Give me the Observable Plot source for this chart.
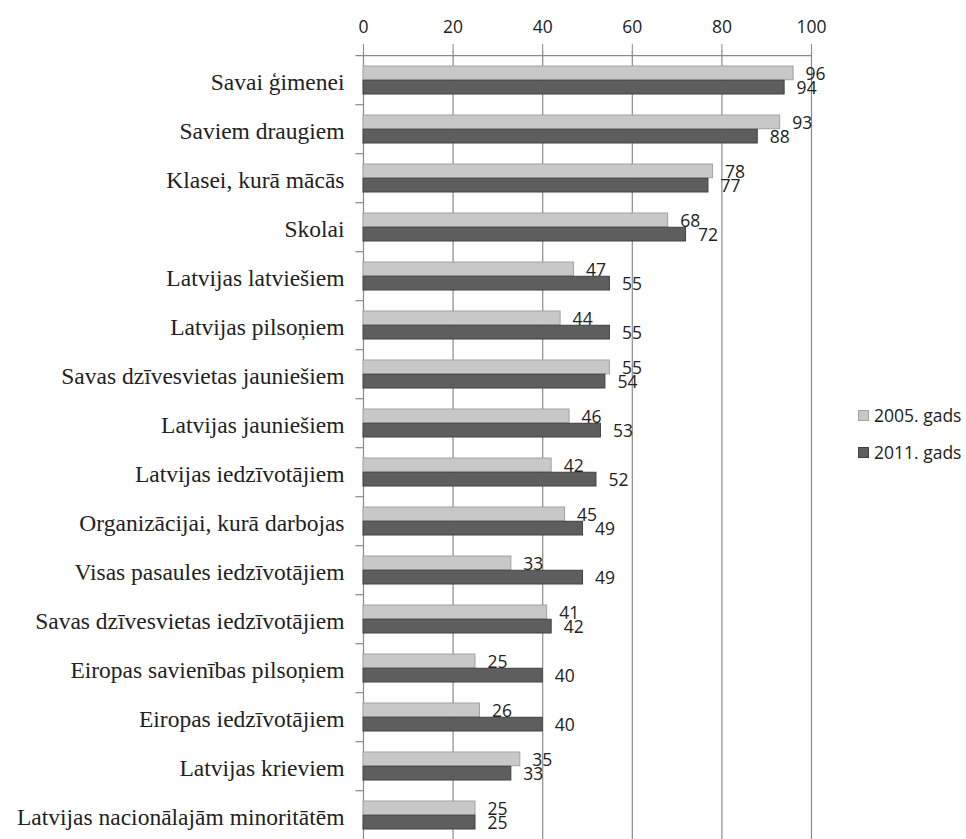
<!DOCTYPE html>
<html>
<head>
<meta charset="utf-8">
<script src="https://cdn.jsdelivr.net/npm/d3@7"></script>
<script src="https://cdn.jsdelivr.net/npm/@observablehq/plot@0.6"></script>
<style>
  html, body { margin: 0; padding: 0; background: #fff; }
  #wrap { position: relative; width: 966px; height: 839px; overflow: hidden; }
  #legend { position: absolute; left: 858px; top: 403px; font-family: "Open Sans", sans-serif; font-size: 17.5px; color: #222; }
  #legend .row { display: flex; align-items: center; height: 24px; margin-bottom: 13px; }
  #legend .sw { width: 11px; height: 11px; margin-right: 5px; box-sizing: border-box; }
</style>
</head>
<body>
<div id="wrap"><div id="chart"></div><div id="legend"></div></div>
<script>
const categories = [
  "Savai ģimenei",
  "Saviem draugiem",
  "Klasei, kurā mācās",
  "Skolai",
  "Latvijas latviešiem",
  "Latvijas pilsoņiem",
  "Savas dzīvesvietas jauniešiem",
  "Latvijas jauniešiem",
  "Latvijas iedzīvotājiem",
  "Organizācijai, kurā darbojas",
  "Visas pasaules iedzīvotājiem",
  "Savas dzīvesvietas iedzīvotājiem",
  "Eiropas savienības pilsoņiem",
  "Eiropas iedzīvotājiem",
  "Latvijas krieviem",
  "Latvijas nacionālajām minoritātēm"
];
const values2005 = [96, 93, 78, 68, 47, 44, 55, 46, 42, 45, 33, 41, 25, 26, 35, 25];
const values2011 = [94, 88, 77, 72, 55, 55, 54, 53, 52, 49, 49, 42, 40, 40, 33, 25];
const seriesNames = ["2005. gads", "2011. gads"];
const xTicks = [0, 20, 40, 60, 80, 100];

const colors = {fill05: "#c8c8c8", stroke05: "#a2a2a2", fill11: "#5e5e5e", stroke11: "#404040"};

const d05 = categories.map((c, i) => ({category: c, value: values2005[i], series: seriesNames[0]}));
const d11 = categories.map((c, i) => ({category: c, value: values2011[i], series: seriesNames[1]}));

// band layout: step ~49.6px, group of two bars ~28.5px, first bar top at ~61.7px
const pad = 0.425;
const step = 49.6;
const firstBandTop = 61.7;
const r0 = firstBandTop - step * pad;
const yRange = [r0, r0 + step * (categories.length + pad)];
const bw = step * (1 - pad);
const half = bw / 2;

const chart = Plot.plot({
  width: 966,
  height: 839,
  marginLeft: 363,
  marginRight: 155,
  marginTop: 51,
  marginBottom: 0,
  style: {fontFamily: "'Open Sans', sans-serif", fontSize: "17px", color: "#222", background: "#fff"},
  x: {domain: [0, 100]},
  y: {domain: categories, range: yRange, padding: pad, align: 0.5},
  marks: [
    Plot.gridX(xTicks.slice(1), {stroke: "#8a8a8a", strokeOpacity: 1, strokeWidth: 1.2}),
    Plot.ruleX([0], {stroke: "#8a8a8a", strokeWidth: 1.2}),
    Plot.ruleY([categories[0]], {y: d => d, x1: -1.7, x2: 100, dy: -step / 2, stroke: "#8a8a8a", strokeWidth: 1.2}),
    Plot.ruleY(categories.slice(1), {y: d => d, x1: -1.7, x2: 0, dy: -step / 2, stroke: "#8a8a8a", strokeWidth: 1.2}),
    Plot.barX(d05, {x: "value", y: "category", fill: colors.fill05, stroke: colors.stroke05, strokeWidth: 1, insetBottom: half}),
    Plot.barX(d11, {x: "value", y: "category", fill: colors.fill11, stroke: colors.stroke11, strokeWidth: 1, insetTop: half}),
    Plot.text(d05, {x: "value", y: "category", text: d => String(d.value), dx: 12, dy: -half / 2 + 1, textAnchor: "start", fill: "#222", fontSize: 17.5}),
    Plot.text(d11, {x: "value", y: "category", text: d => String(d.value), dx: 12, dy: half / 2 + 1, textAnchor: "start", fill: "#222", fontSize: 17.5}),
    Plot.axisX(xTicks, {anchor: "top", tickSize: 8, tickPadding: 11, stroke: "#8a8a8a", fill: "#222", fontSize: 17.5, label: null}),
    Plot.axisY({anchor: "left", tickSize: 0, tickPadding: 19, fontFamily: "'Liberation Serif', serif", fontSize: 23.5, fill: "#222", dy: 2, label: null})
  ]
});
document.getElementById("chart").appendChild(chart);

const legend = document.getElementById("legend");
[[seriesNames[0], colors.fill05, colors.stroke05], [seriesNames[1], colors.fill11, colors.stroke11]].forEach(([name, f, s]) => {
  const row = document.createElement("div");
  row.className = "row";
  const sw = document.createElement("div");
  sw.className = "sw";
  sw.style.background = f;
  sw.style.border = `1px solid ${s}`;
  const t = document.createElement("span");
  t.textContent = name;
  row.appendChild(sw);
  row.appendChild(t);
  legend.appendChild(row);
});
</script>
</body>
</html>
